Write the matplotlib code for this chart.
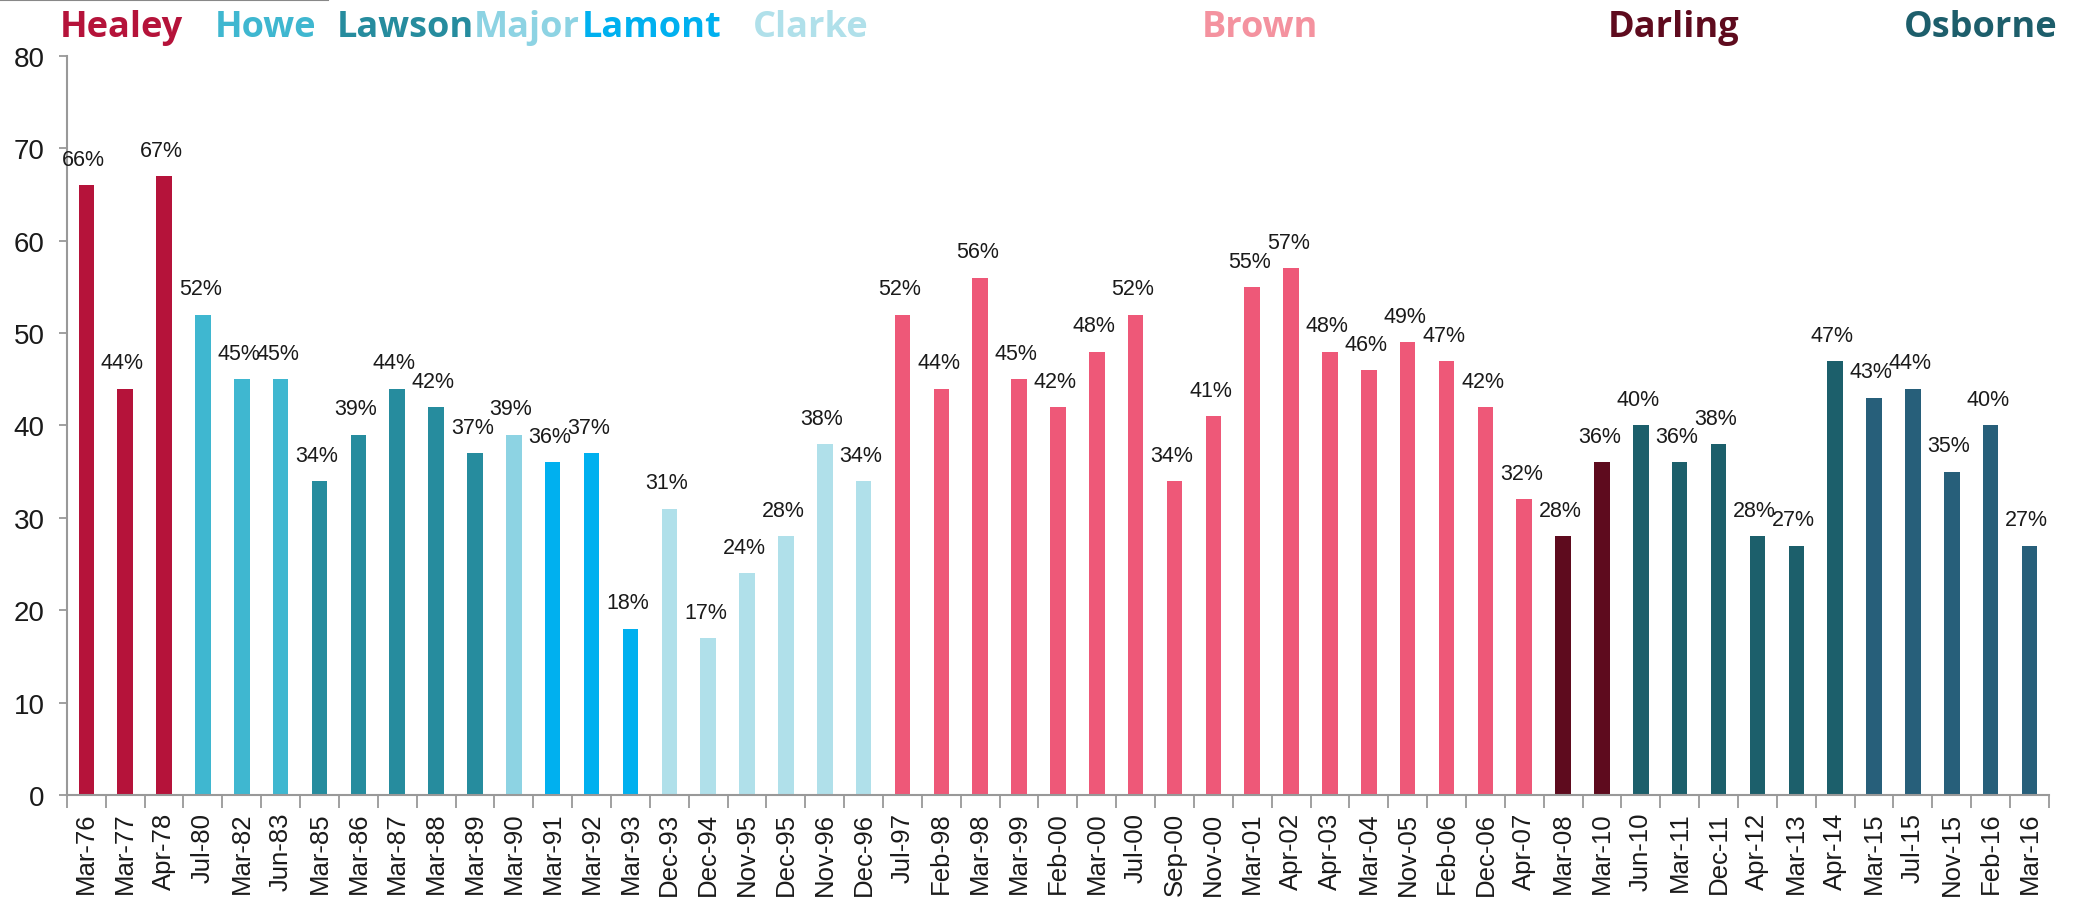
import matplotlib
matplotlib.use("Agg")
import matplotlib.pyplot as plt
from matplotlib.lines import Line2D
import numpy as np

# budget dates and ratings (%)
dates = ["Mar-76", "Mar-77", "Apr-78", "Jul-80", "Mar-82", "Jun-83", "Mar-85", "Mar-86",
         "Mar-87", "Mar-88", "Mar-89", "Mar-90", "Mar-91", "Mar-92", "Mar-93", "Dec-93",
         "Dec-94", "Nov-95", "Dec-95", "Nov-96", "Dec-96", "Jul-97", "Feb-98", "Mar-98",
         "Mar-99", "Feb-00", "Mar-00", "Jul-00", "Sep-00", "Nov-00", "Mar-01", "Apr-02",
         "Apr-03", "Mar-04", "Nov-05", "Feb-06", "Dec-06", "Apr-07", "Mar-08", "Mar-10",
         "Jun-10", "Mar-11", "Dec-11", "Apr-12", "Mar-13", "Apr-14", "Mar-15", "Jul-15",
         "Nov-15", "Feb-16", "Mar-16"]
values = [66, 44, 67, 52, 45, 45, 34, 39, 44, 42, 37, 39, 36, 37, 18, 31, 17, 24, 28, 38, 34,
          52, 44, 56, 45, 42, 48, 52, 34, 41, 55, 57, 48, 46, 49, 47, 42, 32, 28, 36,
          40, 36, 38, 28, 27, 47, 43, 44, 35, 40, 27]

chancellors = ["Healey", "Howe", "Lawson", "Major", "Lamont", "Clarke", "Brown", "Darling", "Osborne"]
n_budgets = [3, 3, 5, 1, 3, 6, 17, 2, 11]
bar_cols = ["#b5133a", "#3fb7d0", "#268c9e", "#8dd3e3", "#00b0ef", "#b0e0ea", "#ee5878", "#5e0b1e", "#1c5f6b"]
name_cols = ["#b5133a", "#3fb7d0", "#268c9e", "#8dd3e3", "#00b0ef", "#b0e0ea", "#f4929f", "#5e0b1e", "#1d5e6b"]
name_x = [0.89, 4.6, 8.21, 11.34, 14.55, 18.65, 30.2, 40.85, 48.75]

colors = []
for c, n in zip(bar_cols, n_budgets):
    colors += [c] * n
# Osborne's later budgets are a bluer shade
for i in range(46, 51):
    colors[i] = "#275f7a"

plt.rcParams['font.family'] = ['Liberation Sans', 'DejaVu Sans']

fig = plt.figure(figsize=(20.78, 9.04), dpi=100)
ax = fig.add_axes([0.0322, 0.1195, 0.9538, 0.8175])

x = np.arange(len(values))
ax.bar(x, values, width=0.4, color=colors, zorder=2)

for xi, v in zip(x, values):
    ax.annotate(f"{v}%", (xi, v), xytext=(-2, 11), textcoords="offset points",
                ha="center", va="bottom", fontsize=15.5, color="#1a1a1a")

ax.set_xlim(-0.5, len(values) - 0.5)
ax.set_ylim(0, 80)
ax.set_yticks(range(0, 81, 10))
ax.tick_params(axis="y", labelsize=20, length=6, width=1.3, color="#999999",
               pad=10, labelcolor="#1a1a1a")

ax.set_xticks(x)
ax.set_xticklabels(dates, rotation=90, fontsize=18.5, color="#1a1a1a")
ax.tick_params(axis="x", length=0, pad=12)
ax.set_xticks(np.arange(-0.5, len(values), 1), minor=True)
ax.tick_params(axis="x", which="minor", length=9, width=1.3, color="#999999")

for s in ["top", "right"]:
    ax.spines[s].set_visible(False)
for s in ["left", "bottom"]:
    ax.spines[s].set_color("#999999")
    ax.spines[s].set_linewidth(1.5)

# chancellor names across the top
for name, nx, c in zip(chancellors, name_x, name_cols):
    ax.text(nx, 82.2, name, ha="center", va="baseline", fontsize=26,
            fontweight="bold", family="Open Sans", color=c, clip_on=False)

fig.add_artist(Line2D([0, 328 / 2078], [0.999, 0.999], color="#888888", lw=1.5))

fig.savefig("out.png", dpi=100)
